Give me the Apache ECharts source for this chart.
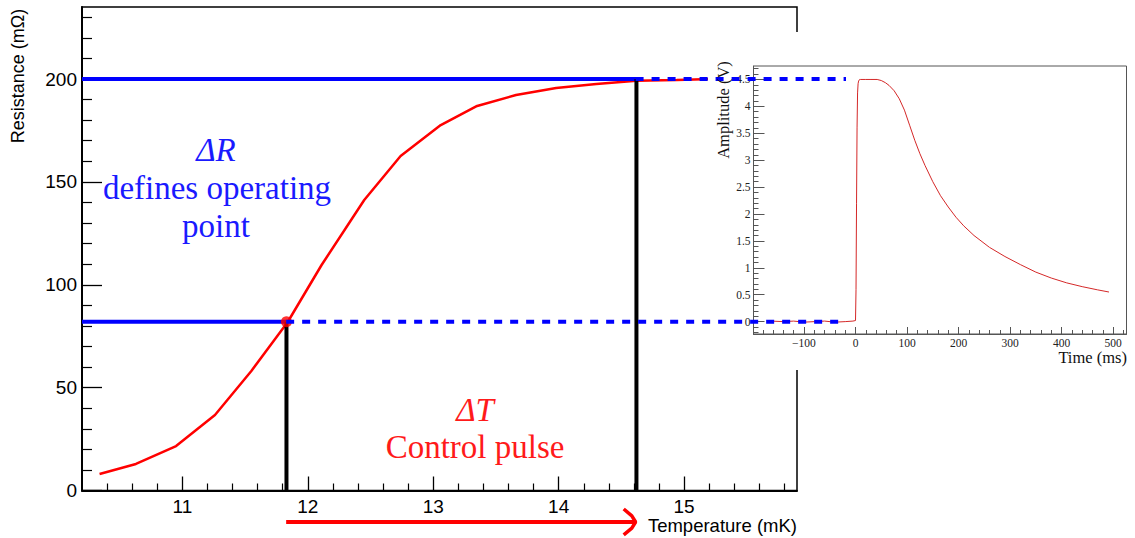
<!DOCTYPE html>
<html><head><meta charset="utf-8">
<script src="https://cdn.jsdelivr.net/npm/echarts@6/dist/echarts.min.js"></script>
<style>html,body{margin:0;padding:0;background:#fff}#c{width:1135px;height:538px}</style>
</head><body><div id="c"></div>
<script>
// ---- Main plot: resistance vs temperature ----
const tempMK     = [10.34, 10.63, 10.95, 11.26, 11.55, 11.84, 12.11, 12.45, 12.74, 13.06, 13.35, 13.66, 13.98, 14.30, 14.62, 14.94, 15.22];
const resistance = [8.0, 12.9, 21.6, 36.7, 58.1, 81.9, 109.6, 141.2, 162.6, 177.6, 186.9, 192.2, 195.6, 197.6, 199.1, 199.5, 200.0];
const opPoint  = [11.83, 82];    // operating point (T, R)
const topPoint = [14.62, 200];   // end of control pulse (T, R)
const dashEndT = 16.30;          // guide lines continue into the inset
const arrowR   = -15.3;          // arrow row below the axis
const xMajor = [11, 12, 13, 14, 15];
const yMajor = [0, 50, 100, 150, 200];

// ---- Inset: pulse amplitude vs time ----
const pulseT = [-165, -140, -120, -100, -80, -60, -40, -20, -5, 0, 1, 2, 3, 4, 5, 6, 8, 10, 20, 30, 42, 50, 58, 65, 75, 85, 95, 105, 115, 125, 135, 150, 165, 180, 195, 210, 230, 260, 290, 320, 350, 380, 410, 440, 470, 492];
const pulseV = [0.01, 0.0, 0.01, -0.01, 0.0, 0.01, -0.01, 0.0, 0.01, 0.02, 0.6, 2.2, 3.6, 4.25, 4.42, 4.47, 4.5, 4.5, 4.5, 4.5, 4.5, 4.48, 4.44, 4.39, 4.29, 4.14, 3.93, 3.65, 3.37, 3.12, 2.90, 2.60, 2.34, 2.13, 1.94, 1.78, 1.60, 1.38, 1.21, 1.06, 0.92, 0.81, 0.72, 0.65, 0.59, 0.55];
const tMajor = [-100, 0, 100, 200, 300, 400, 500];
const vMajor = [0, 0.5, 1, 1.5, 2, 2.5, 3, 3.5, 4, 4.5];

function range(a, b, s) { const r = []; for (let v = a; v <= b + 1e-9; v += s) r.push(+v.toFixed(4)); return r; }
function minors(a, b, s, majors) { return range(a, b, s).filter(v => !majors.some(m => Math.abs(m - v) < 1e-6)); }
const xMinor = minors(10.4, 15.8, 0.2, xMajor);
const yMinor = minors(10, 230, 10, yMajor);
const tMinor = minors(-180, 520, 20, tMajor);
const vMinor = minors(-0.2, 4.7, 0.1, vMajor);

const SANS = 'Liberation Sans';
const SERIF = 'Liberation Serif';
const BLUE = '#0000ff';
const RED = '#ff0000';

const chart = echarts.init(document.getElementById('c'), null, {renderer: 'svg'});
const zip = (a, b) => a.map((v, i) => [v, b[i]]);

function axis(grid, pos, min, max, o) {
  return Object.assign({gridIndex: grid, type: 'value', position: pos, min: min, max: max,
    axisLine: {show: false, onZero: false}, axisLabel: {show: false}, splitLine: {show: false}, axisTick: {show: false}}, o);
}

chart.setOption({
  animation: false,
  backgroundColor: '#fff',
  grid: [
    {left: 82, right: 338, top: 7, bottom: 47.5, show: true, borderColor: '#000', borderWidth: 1.5, backgroundColor: 'transparent', containLabel: false, outerBoundsMode: 'none'},
    {left: 753.5, right: 8.5, top: 66, bottom: 204, show: true, borderColor: '#555', borderWidth: 1, backgroundColor: 'transparent', z: 4, containLabel: false, outerBoundsMode: 'none'},
    // overlay grid: same scale as the main plot, extended to the right so the guide lines reach the inset
    {left: 82, right: 289, top: 7, bottom: 47.5, show: false, containLabel: false, outerBoundsMode: 'none'}
  ],
  xAxis: [
    axis(0, 'bottom', 10.2, 15.9, {
      axisLine: {show: true, onZero: false, lineStyle: {color: '#000', width: 2}},
      axisTick: {show: true, inside: true, length: 14, customValues: xMajor, lineStyle: {color: '#000', width: 1.3}},
      axisLabel: {show: true, customValues: xMajor, margin: 6, fontSize: 19, fontFamily: SANS, color: '#000'}}),
    axis(0, 'bottom', 10.2, 15.9, {
      axisTick: {show: true, inside: true, length: 7, customValues: xMinor, lineStyle: {color: '#000', width: 1.2}}}),
    axis(1, 'bottom', -198, 526, {z: 4,
      axisLine: {show: true, onZero: false, lineStyle: {color: '#555', width: 1}},
      axisTick: {show: true, inside: true, length: 7, customValues: tMajor, lineStyle: {color: '#555', width: 1}},
      axisLabel: {show: true, customValues: tMajor, margin: 3, fontSize: 11.5, fontFamily: SERIF, color: '#222',
        formatter: v => String(v).replace('-', '\u2212')}}),
    axis(1, 'bottom', -198, 526, {z: 4,
      axisTick: {show: true, inside: true, length: 4, customValues: tMinor, lineStyle: {color: '#555', width: 1}}}),
    axis(2, 'bottom', 10.2, dashEndT, {show: false})
  ],
  yAxis: [
    axis(0, 'left', 0, 235, {
      axisLine: {show: true, onZero: false, lineStyle: {color: '#000', width: 2}},
      axisTick: {show: true, inside: true, length: 20, customValues: yMajor, lineStyle: {color: '#000', width: 1.3}},
      axisLabel: {show: true, customValues: yMajor, margin: 5, fontSize: 19, fontFamily: SANS, color: '#000'}}),
    axis(0, 'left', 0, 235, {
      axisTick: {show: true, inside: true, length: 10, customValues: yMinor, lineStyle: {color: '#000', width: 1.2}}}),
    axis(1, 'left', -0.23, 4.75, {z: 4,
      axisLine: {show: true, onZero: false, lineStyle: {color: '#555', width: 1}},
      axisTick: {show: true, inside: true, length: 11, customValues: vMajor, lineStyle: {color: '#555', width: 1}},
      axisLabel: {show: true, customValues: vMajor, margin: 3, fontSize: 11.5, fontFamily: SERIF, color: '#222'}}),
    axis(1, 'left', -0.23, 4.75, {z: 4,
      axisTick: {show: true, inside: true, length: 5, customValues: vMinor, lineStyle: {color: '#555', width: 1}}}),
    axis(2, 'left', 0, 235, {show: false})
  ],
  series: [
    {type: 'line', xAxisIndex: 0, yAxisIndex: 0, data: zip(tempMK, resistance), symbol: 'none', z: 2,
      lineStyle: {color: RED, width: 2.5}},
    {type: 'line', xAxisIndex: 0, yAxisIndex: 0, data: [[10.2, topPoint[1]], topPoint], symbol: 'none', z: 2,
      lineStyle: {color: BLUE, width: 4}},
    {type: 'line', xAxisIndex: 0, yAxisIndex: 0, data: [[10.2, opPoint[1]], opPoint], symbol: 'none', z: 2,
      lineStyle: {color: BLUE, width: 4}},
    {type: 'line', xAxisIndex: 0, yAxisIndex: 0, data: [[opPoint[0], 0], opPoint], symbol: 'none', z: 2,
      lineStyle: {color: '#000', width: 4}},
    {type: 'line', xAxisIndex: 0, yAxisIndex: 0, data: [[topPoint[0], 0], topPoint], symbol: 'none', z: 2,
      lineStyle: {color: '#000', width: 4}},
    {type: 'scatter', xAxisIndex: 0, yAxisIndex: 0, data: [opPoint], symbol: 'circle', symbolSize: 11, z: 3,
      itemStyle: {color: RED}},
    {type: 'line', xAxisIndex: 4, yAxisIndex: 4, data: [[opPoint[0], arrowR], [topPoint[0], arrowR]], symbol: 'none', clip: false, z: 2,
      lineStyle: {color: RED, width: 4}},
    {type: 'line', xAxisIndex: 4, yAxisIndex: 4, data: [[topPoint[0] - 0.095, arrowR + 6.3], [topPoint[0] - 0.03, arrowR + 3], [topPoint[0], arrowR], [topPoint[0] - 0.03, arrowR - 3], [topPoint[0] - 0.095, arrowR - 6.3]],
      symbol: 'none', clip: false, z: 2, lineStyle: {color: RED, width: 3.5}},
    {type: 'line', xAxisIndex: 2, yAxisIndex: 2, data: zip(pulseT, pulseV), symbol: 'none', z: 4,
      lineStyle: {color: '#d42828', width: 1}},
    {type: 'line', xAxisIndex: 4, yAxisIndex: 4, data: [topPoint, [dashEndT, topPoint[1]]], symbol: 'none', clip: false, z: 6,
      lineStyle: {color: BLUE, width: 4, type: [8, 8]}},
    {type: 'line', xAxisIndex: 4, yAxisIndex: 4, data: [opPoint, [dashEndT, opPoint[1]]], symbol: 'none', clip: false, z: 6,
      lineStyle: {color: BLUE, width: 4, type: [8, 8]}}
  ],
  graphic: {elements: [
    {type: 'rect', z: 3, shape: {x: 708, y: 32, width: 427, height: 338}, style: {fill: '#fff'}},
    {type: 'text', z: 10, x: 18, y: 76, rotation: Math.PI / 2,
      style: {text: 'Resistance (m\u03A9)', fontSize: 18, fontFamily: SANS, fill: '#000', align: 'center', verticalAlign: 'middle'}},
    {type: 'text', z: 10, x: 797, y: 525,
      style: {text: 'Temperature (mK)', fontSize: 18.5, fontFamily: SANS, fill: '#000', align: 'right', verticalAlign: 'middle'}},
    {type: 'text', z: 10, x: 723, y: 110, rotation: Math.PI / 2,
      style: {text: 'Amplitude (V)', fontSize: 16.5, fontFamily: SERIF, fill: '#111', align: 'center', verticalAlign: 'middle'}},
    {type: 'text', z: 10, x: 1127, y: 357,
      style: {text: 'Time (ms)', fontSize: 16.5, fontFamily: SERIF, fill: '#111', align: 'right', verticalAlign: 'middle'}},
    {type: 'text', z: 10, x: 216, y: 150,
      style: {text: '\u0394R', fontSize: 33, fontStyle: 'italic', fontFamily: SERIF, fill: '#1a1aff', align: 'center', verticalAlign: 'middle'}},
    {type: 'text', z: 10, x: 217, y: 188,
      style: {text: 'defines operating', fontSize: 33, fontFamily: SERIF, fill: '#1a1aff', align: 'center', verticalAlign: 'middle'}},
    {type: 'text', z: 10, x: 216, y: 226,
      style: {text: 'point', fontSize: 33, fontFamily: SERIF, fill: '#1a1aff', align: 'center', verticalAlign: 'middle'}},
    {type: 'text', z: 10, x: 475, y: 410,
      style: {text: '\u0394T', fontSize: 33, fontStyle: 'italic', fontFamily: SERIF, fill: '#ff1a1a', align: 'center', verticalAlign: 'middle'}},
    {type: 'text', z: 10, x: 475, y: 447,
      style: {text: 'Control pulse', fontSize: 33, fontFamily: SERIF, fill: '#ff1a1a', align: 'center', verticalAlign: 'middle'}}
  ]}
});
</script>
</body></html>
